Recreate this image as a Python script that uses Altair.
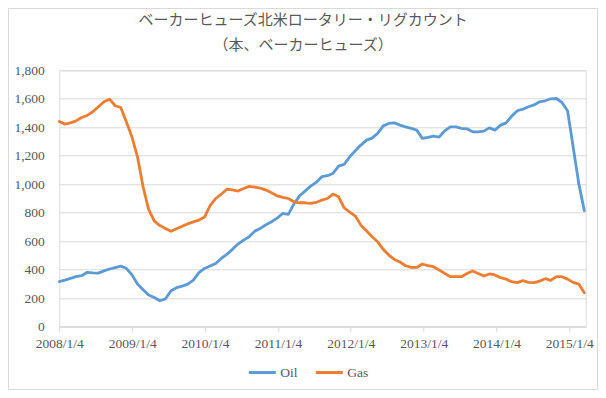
import altair as alt
import pandas as pd

# Sample dates: every 4 weeks starting 2008/1/4 (weekly Baker Hughes counts, sampled)
dates = pd.date_range("2008-01-04", periods=95, freq="28D").strftime("%Y-%m-%d").tolist()

oil = [316, 327, 339, 351, 358, 382, 378, 376, 392, 405,
       415, 425, 410, 365, 300, 260, 222, 205, 182, 195,
       253, 274, 285, 299, 327, 379, 409, 426, 444, 479,
       508, 543, 580, 608, 631, 671, 690, 716, 737, 762,
       795, 788, 861, 917, 952, 987, 1013, 1053, 1060, 1076,
       1127, 1140, 1193, 1235, 1275, 1310, 1324, 1357, 1410, 1427,
       1431, 1415, 1403, 1392, 1380, 1322, 1329, 1338, 1331, 1375,
       1403, 1403, 1392, 1389, 1368, 1368, 1373, 1396, 1380, 1415,
       1431, 1478, 1516, 1527, 1544, 1557, 1579, 1586, 1600, 1602,
       1574, 1516, 1263, 1006, 815]

gas = [1440, 1422, 1431, 1445, 1469, 1483, 1509, 1544, 1579, 1597,
       1551, 1539, 1438, 1333, 1193, 982, 823, 743, 710, 690,
       670, 688, 705, 722, 736, 748, 770, 850, 900, 930,
       965, 960, 952, 970, 985, 980, 973, 959, 940, 919,
       908, 900, 877, 870, 870, 865, 872, 889, 900, 931,
       912, 835, 805, 777, 713, 674, 632, 596, 543, 503,
       472, 454, 428, 416, 416, 440, 428, 421, 398, 374,
       351, 351, 351, 374, 391, 374, 356, 370, 363, 344,
       334, 316, 309, 323, 311, 309, 320, 337, 325, 351,
       351, 334, 311, 299, 239]

series_names = ["Oil", "Gas"]
series_colors = ["#5B9BD5", "#ED7D31"]
title_lines = ["ベーカーヒューズ北米ロータリー・リグカウント", "（本、ベーカーヒューズ）"]
y_ticks = [0, 200, 400, 600, 800, 1000, 1200, 1400, 1600, 1800]
x_tick_years = [2008, 2009, 2010, 2011, 2012, 2013, 2014, 2015]

df = pd.DataFrame({
    "date": dates + dates,
    "value": oil + gas,
    "series": ["Oil"] * len(oil) + ["Gas"] * len(gas),
})

W, H = 526.4, 256.4
LABEL_FONT = "Liberation Serif, DejaVu Serif, serif"
GRAY = "#595959"
LIGHT = "#D9D9D9"

x_vals = [alt.DateTime(year=y, month=1, date=4, utc=True) for y in x_tick_years]

lines = alt.Chart(df).mark_line(strokeWidth=2.8, strokeJoin="round", strokeCap="round").encode(
    x=alt.X(
        "date:T",
        scale=alt.Scale(
            type="utc",
            domain=[alt.DateTime(year=2008, month=1, date=4, utc=True),
                    alt.DateTime(year=2015, month=3, date=27, utc=True)],
            nice=False,
        ),
        axis=alt.Axis(
            values=x_vals, format="%Y/%-m/%-d", title=None, grid=False,
            domain=True, domainColor=LIGHT, ticks=True, tickColor=LIGHT, tickSize=5,
            labelPadding=5, labelFont=LABEL_FONT, labelFontSize=13.5, labelColor=GRAY,
            labelFlush=False, labelOverlap=False,
        ),
    ),
    y=alt.Y(
        "value:Q",
        scale=alt.Scale(domain=[0, 1800], nice=False),
        axis=alt.Axis(
            values=y_ticks, format=",.0f", title=None, grid=True, gridColor=LIGHT,
            domain=False, ticks=False, tickSize=0, labelPadding=15,
            labelFont=LABEL_FONT, labelFontSize=13.5, labelColor=GRAY,
        ),
    ),
    color=alt.Color(
        "series:N",
        scale=alt.Scale(domain=series_names, range=series_colors),
        sort=series_names,
        legend=alt.Legend(
            title=None, orient="none", legendX=188, legendY=287, direction="horizontal",
            symbolType="stroke", symbolStrokeWidth=3, symbolSize=729,
            labelFont=LABEL_FONT, labelFontSize=13.5, labelColor=GRAY,
            labelOffset=3, columnPadding=11,
        ),
    ),
)

title1 = alt.Chart(pd.DataFrame({"t": [title_lines[0]]})).mark_text(
    font="Noto Sans CJK JP", fontSize=15, color=GRAY, baseline="middle", align="center"
).encode(text="t:N", x=alt.value(243.7), y=alt.value(-50.3))

title2 = alt.Chart(pd.DataFrame({"t": [title_lines[1]]})).mark_text(
    font="Noto Sans CJK JP", fontSize=15, color=GRAY, baseline="middle", align="center"
).encode(text="t:N", x=alt.value(243.7), y=alt.value(-25.3))

border = alt.Chart(pd.DataFrame({"a": [0]})).mark_rect(
    fill="transparent", stroke=LIGHT, strokeWidth=1
).encode(x=alt.value(-50.8), x2=alt.value(538.2), y=alt.value(-61.8), y2=alt.value(319.2))

chart = alt.layer(border, lines, title1, title2).properties(
    width=W, height=H,
    padding={"left": 51.3, "top": 62.3, "right": 12.3, "bottom": 63.3},
    autosize=alt.AutoSizeParams(type="none"),
).configure_view(strokeWidth=0).configure(background="white")

chart.save("out.html", embed_options={"renderer": "svg", "actions": False})
